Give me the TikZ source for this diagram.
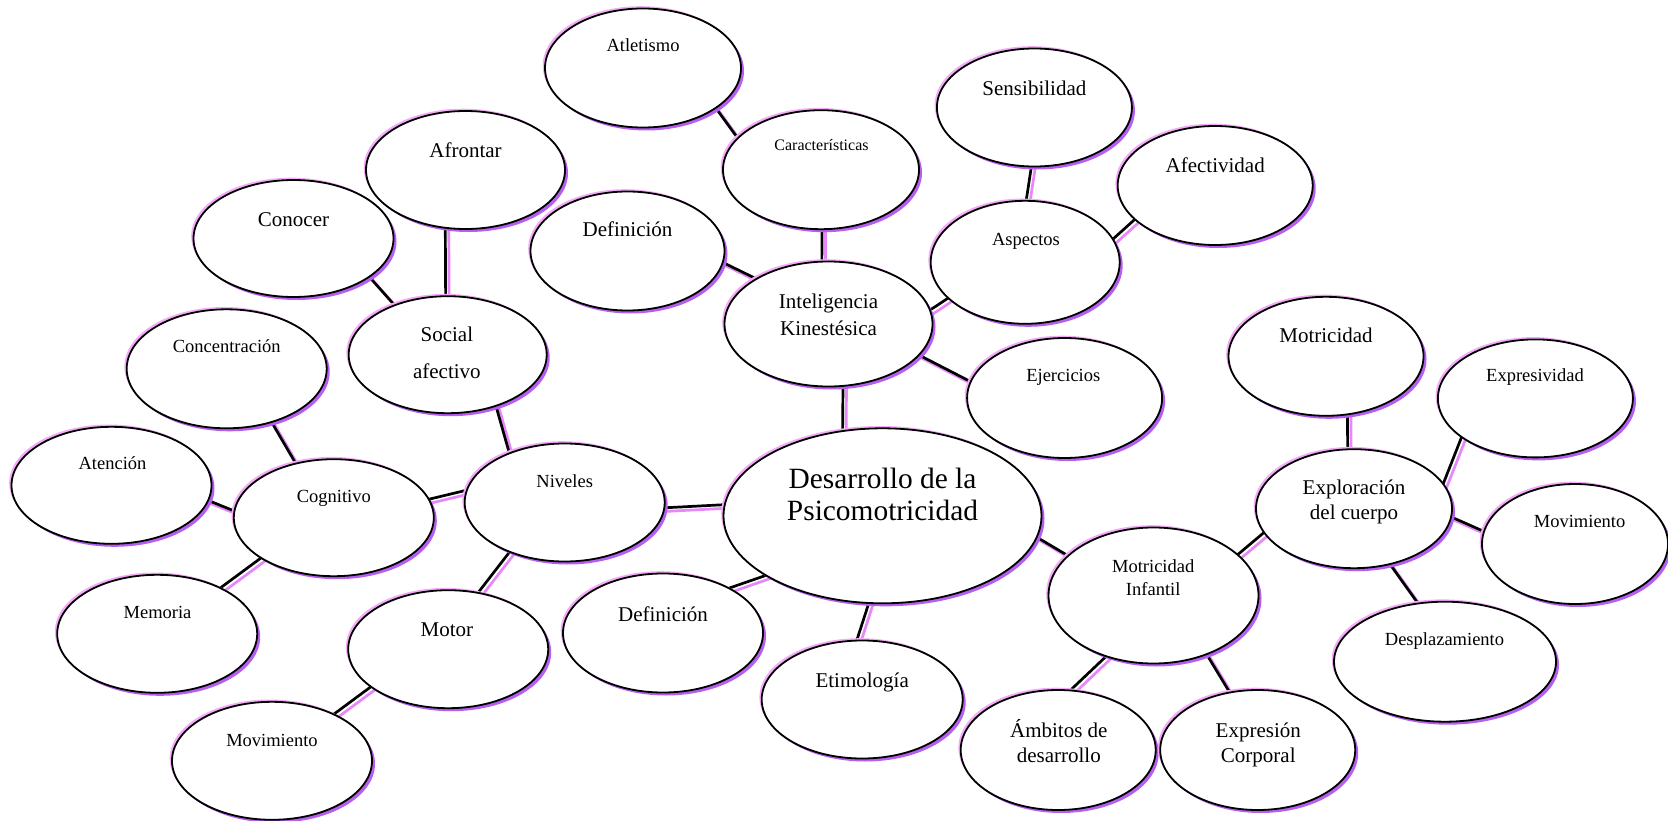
\documentclass[tikz,border=0pt]{standalone}
\usepackage{fontspec}
\setmainfont{Liberation Serif}
\usetikzlibrary{shapes.geometric,shadows}
\definecolor{shpurple}{RGB}{180,95,240}
\definecolor{shpink}{RGB}{245,170,250}
\definecolor{lnpink}{RGB}{230,135,250}
\pgfdeclarelayer{background}
\pgfdeclarelayer{paper}
\pgfsetlayers{paper,background,main}
\tikzset{
  bub/.style={ellipse, draw=black, line width=1.8pt, fill=white, inner sep=0pt,
    minimum width=198pt, minimum height=119pt,
    general shadow={fill=shpink, shadow xshift=-2.3pt, shadow yshift=2.3pt},
    general shadow={fill=shpurple, shadow xshift=3pt, shadow yshift=-3pt}},
  tsm/.style={anchor=base, inner sep=0pt, font=\fontsize{18.5}{22}\selectfont},
  tmd/.style={anchor=base, inner sep=0pt, font=\fontsize{21}{25}\selectfont},
  tlg/.style={anchor=base, inner sep=0pt, font=\fontsize{29.4}{34}\selectfont},
  tcar/.style={anchor=base, inner sep=0pt, font=\fontsize{16}{19}\selectfont},
  conb/.style={draw=black, line width=2.7pt, shorten <=-8pt, shorten >=-8pt},
  conp/.style={draw=lnpink, line width=2.7pt, shorten <=-8pt, shorten >=-8pt,
    transform canvas={shift={(3.5pt,-3.5pt)}}}
}
\newcommand\mylink[2]{\draw[conp] (#1) -- (#2); \draw[conb] (#1) -- (#2);}
\begin{document}
\begin{tikzpicture}[x=1pt,y=-1pt]
\begin{pgfonlayer}{paper}
\fill[white] (0,0) rectangle (1668,821);
\end{pgfonlayer}
\useasboundingbox (0,0) rectangle (1668,821);

% ---- bubbles ----
\node[bub, minimum width=196pt] (atl) at (643,68) {};
\node[tsm] (atl-t) at (643,52) {Atletismo};
\node[bub, minimum width=196pt] (car) at (821,169.7) {};
\node[tcar] (car-t) at (821.5,150.3) {Características};
\node[bub, minimum width=194pt] (defa) at (627.5,251) {};
\node[tmd] (defa-t) at (627.5,236.3) {Definición};
\node[bub, minimum width=195pt, minimum height=118pt] (sen) at (1034.4,107.5) {};
\node[tmd] (sen-t) at (1034.4,95.3) {Sensibilidad};
\node[bub, minimum width=195pt] (afe) at (1215.2,185.5) {};
\node[tmd] (afe-t) at (1215.2,172.7) {Afectividad};
\node[bub, minimum width=189pt, minimum height=123pt] (asp) at (1025.2,262.3) {};
\node[tsm] (asp-t) at (1026,245.3) {Aspectos};
\node[bub, minimum width=208pt, minimum height=125pt] (intk) at (828.5,324) {};
\node[tmd] (intk-t1) at (828.5,308.7) {Inteligencia};
\node[tmd] (intk-t2) at (828.5,335.3) {Kinestésica};
\node[bub, minimum width=195pt, minimum height=120pt] (eje) at (1064.6,398) {};
\node[tsm] (eje-t) at (1063.3,381.7) {Ejercicios};
\node[bub, minimum width=199pt, minimum height=118pt] (afr) at (465.5,170) {};
\node[tmd] (afr-t) at (465.5,157.7) {Afrontar};
\node[bub, minimum width=200pt, minimum height=117pt] (con) at (293.5,238.5) {};
\node[tmd] (con-t) at (293.5,227) {Conocer};
\node[bub, minimum height=117pt] (soc) at (447.7,354.7) {};
\node[tmd] (soc-t1) at (446.9,341.3) {Social};
\node[tmd] (soc-t2) at (446.9,378.7) {afectivo};
\node[bub, minimum width=200pt] (conc) at (226.7,368.8) {};
\node[tsm] (conc-t) at (226.7,352.7) {Concentración};
\node[bub, minimum width=200pt, minimum height=117pt] (ate) at (111.5,485.3) {};
\node[tsm] (ate-t) at (112.5,469.3) {Atención};
\node[bub, minimum width=200pt, minimum height=117pt] (cog) at (333.8,517.7) {};
\node[tsm] (cog-t) at (333.8,502.7) {Cognitivo};
\node[bub, minimum width=200pt, minimum height=118pt] (niv) at (564.7,502.5) {};
\node[tsm] (niv-t) at (564.7,487) {Niveles};
\node[bub, minimum width=200pt, minimum height=118pt] (mem) at (157.2,633.8) {};
\node[tsm] (mem-t) at (157.5,618.3) {Memoria};
\node[bub, minimum width=200pt, minimum height=118pt] (mot) at (448.2,649.2) {};
\node[tmd] (mot-t) at (446.9,636.3) {Motor};
\node[bub, minimum width=200pt, minimum height=118pt] (movl) at (272,760.8) {};
\node[tsm] (movl-t) at (272,746) {Movimiento};
\node[bub, minimum width=200pt] (defb) at (663,633) {};
\node[tmd] (defb-t) at (663,621.3) {Definición};
\node[bub, minimum width=318pt, minimum height=175pt] (des) at (882.5,515.8) {};
\node[tlg] (des-t1) at (882.5,488.3) {Desarrollo de la};
\node[tlg] (des-t2) at (882.5,520.7) {Psicomotricidad};
\node[bub, minimum width=201pt, minimum height=118pt] (eti) at (862.2,699.5) {};
\node[tmd] (eti-t) at (862.2,687) {Etimología};
\node[bub, minimum width=210pt, minimum height=136pt] (mi) at (1153.5,595.5) {};
\node[tsm] (mi-t1) at (1153.2,572.7) {Motricidad};
\node[tsm] (mi-t2) at (1153.2,595.3) {Infantil};
\node[bub, minimum width=196pt] (exc) at (1354,508.7) {};
\node[tmd] (exc-t1) at (1354,494.3) {Exploración};
\node[tmd] (exc-t2) at (1354,519.7) {del cuerpo};
\node[bub, minimum width=195pt] (mtr) at (1326,356.3) {};
\node[tmd] (mtr-t) at (1326,342) {Motricidad};
\node[bub, minimum width=195pt, minimum height=118pt] (exv) at (1535.4,398.4) {};
\node[tsm] (exv-t) at (1535,381.7) {Expresividad};
\node[bub, minimum width=186pt, minimum height=120pt] (movr) at (1575,544) {};
\node[tsm] (movr-t) at (1579.6,527) {Movimiento};
\node[bub, minimum width=222pt, minimum height=120pt] (dsp) at (1445,661.7) {};
\node[tsm] (dsp-t) at (1444.5,645.3) {Desplazamiento};
\node[bub, minimum width=195pt, minimum height=120pt] (amb) at (1058.2,750) {};
\node[tmd] (amb-t1) at (1058.8,737) {Ámbitos de};
\node[tmd] (amb-t2) at (1058.8,762) {desarrollo};
\node[bub, minimum width=195pt, minimum height=120pt] (exp) at (1257.7,750) {};
\node[tmd] (exp-t1) at (1258.3,737) {Expresión};
\node[tmd] (exp-t2) at (1258.3,762) {Corporal};

% ---- connectors ----
\begin{pgfonlayer}{background}
\mylink{atl.-29}{car.159}
\mylink{car.-89}{intk.96}
\mylink{defa.-7}{intk.148}
\mylink{sen.-93}{asp.89}
\mylink{afe.-157}{asp.15}
\mylink{asp.-155}{intk.8}
\mylink{intk.-19}{eje.170}
\mylink{intk.-77}{des.115}
\mylink{afr.-109}{soc.92}
\mylink{con.-27}{soc.137}
\mylink{soc.-47}{niv.138}
\mylink{conc.-50}{cog.125}
\mylink{ate.-9}{cog.176}
\mylink{mem.36}{cog.-151}
\mylink{cog.11}{niv.173}
\mylink{niv.-138}{mot.62}
\mylink{mot.-154}{movl.37}
\mylink{niv.-3}{des.176}
\mylink{des.-153}{defb.34}
\mylink{des.-99}{eti.95}
\mylink{des.-8}{mi.155}
\mylink{mi.-128}{amb.78}
\mylink{mi.-48}{exp.116}
\mylink{mi.26}{exc.-165}
\mylink{mtr.-70}{exc.96}
\mylink{exv.-152}{exc.16}
\mylink{exc.-5}{movr.172}
\mylink{exc.-57}{dsp.115}
\end{pgfonlayer}
\end{tikzpicture}
\end{document}
